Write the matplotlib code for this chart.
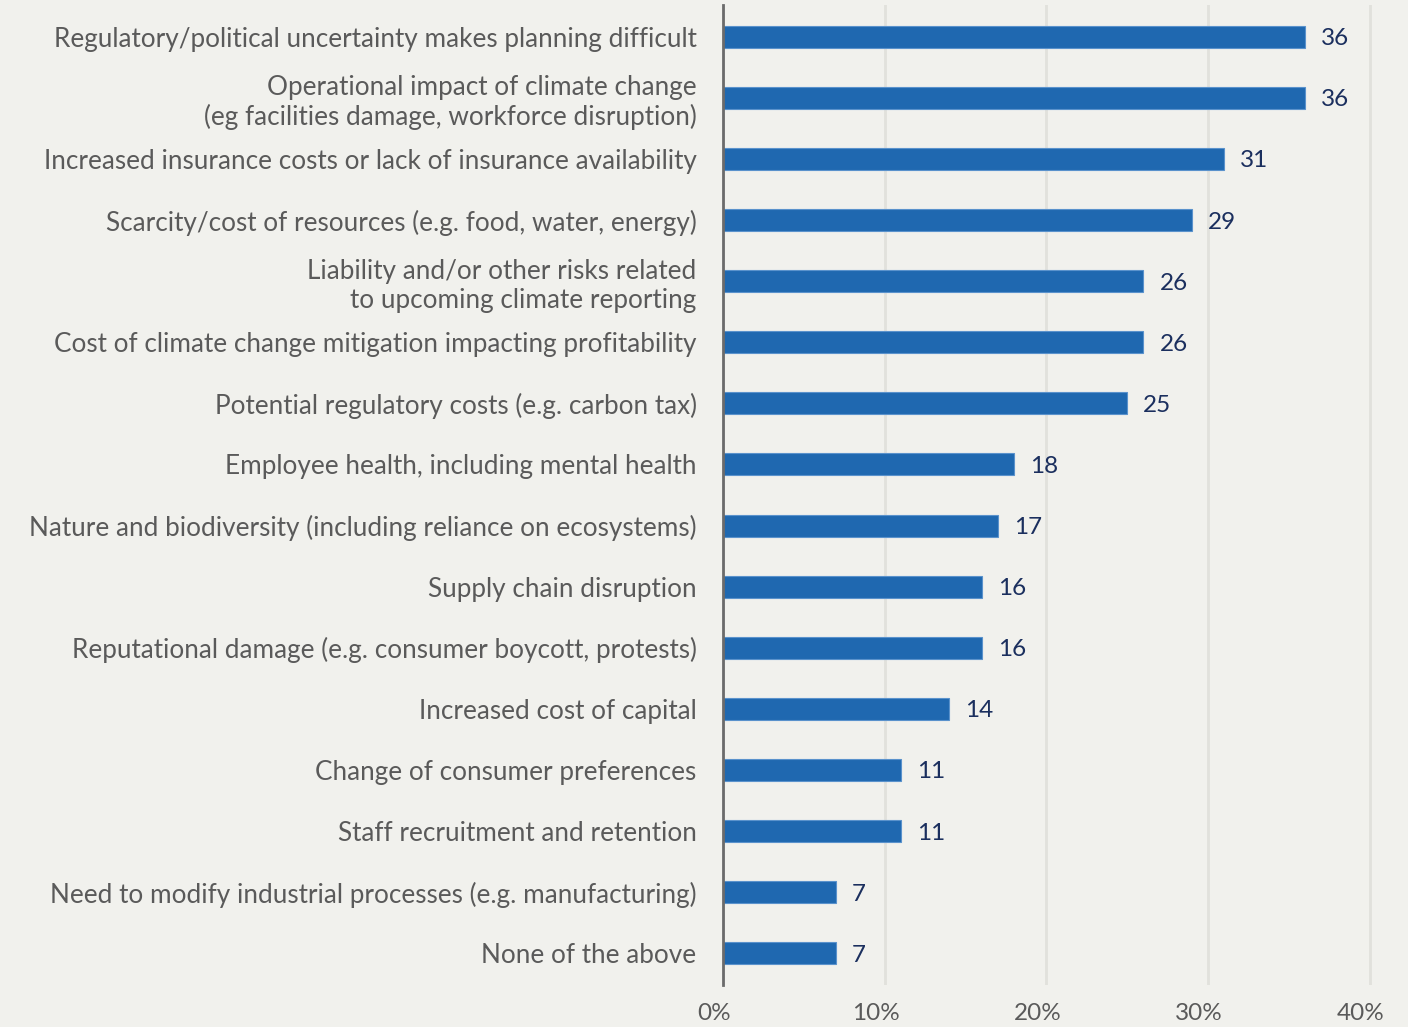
import matplotlib
matplotlib.use("Agg")
import matplotlib.pyplot as plt
from matplotlib.transforms import ScaledTranslation

categories = [
    "Regulatory/political uncertainty makes planning difficult",
    "Operational impact of climate change\n(eg facilities damage, workforce disruption)",
    "Increased insurance costs or lack of insurance availability",
    "Scarcity/cost of resources (e.g. food, water, energy)",
    "Liability and/or other risks related\nto upcoming climate reporting",
    "Cost of climate change mitigation impacting profitability",
    "Potential regulatory costs (e.g. carbon tax)",
    "Employee health, including mental health",
    "Nature and biodiversity (including reliance on ecosystems)",
    "Supply chain disruption",
    "Reputational damage (e.g. consumer boycott, protests)",
    "Increased cost of capital",
    "Change of consumer preferences",
    "Staff recruitment and retention",
    "Need to modify industrial processes (e.g. manufacturing)",
    "None of the above",
]
values = [36, 36, 31, 29, 26, 26, 25, 18, 17, 16, 16, 14, 11, 11, 7, 7]
x_ticks = [0, 10, 20, 30, 40]
x_tick_labels = ["0%", "10%", "20%", "30%", "40%"]

BG = "#f1f1ed"
BAR = "#1f68b0"
LABEL = "#5a5a5a"
VALUE = "#1b2f5e"

plt.rcParams["font.family"] = ["Lato", "DejaVu Sans"]

fig = plt.figure(figsize=(14.08, 10.27), dpi=100, facecolor=BG)
ax = fig.add_axes([0.5135, 0.0409, 1 - 0.5135, 0.9951 - 0.0409], facecolor=BG)

pos = list(range(len(categories)))
ax.barh(pos, values, height=0.36, color=BAR, edgecolor="#5a92cc", linewidth=0.8, zorder=3)

for y, v in zip(pos, values):
    ax.annotate(str(v), xy=(v, y), xytext=(16, 0), textcoords="offset pixels",
                ha="left", va="center_baseline", fontsize=17.5, color=VALUE)

ax.set_ylim(len(categories) - 0.48, -0.52)
ax.set_xlim(0, 42.36)

ax.set_yticks(pos)
ax.set_yticklabels(categories, fontsize=18.8, color=LABEL, linespacing=1.2, ha="right")
ax.tick_params(axis="y", length=0, pad=19)

ax.set_xticks(x_ticks)
ax.set_xticklabels(x_tick_labels, fontsize=17.5, color=LABEL)
ax.tick_params(axis="x", length=0, pad=13)
shift = ScaledTranslation(-9 / 100, 0, fig.dpi_scale_trans)
for lbl in ax.get_xticklabels():
    lbl.set_transform(lbl.get_transform() + shift)

ax.grid(axis="x", color="#e1e1dc", linewidth=2, zorder=0)
ax.grid(axis="y", visible=False)
for side in ["top", "right", "bottom"]:
    ax.spines[side].set_visible(False)
ax.spines["left"].set_color("#6b6b6b")
ax.spines["left"].set_linewidth(2)
ax.spines["left"].set_zorder(4)

fig.savefig("out.png", dpi=100, facecolor=BG)
